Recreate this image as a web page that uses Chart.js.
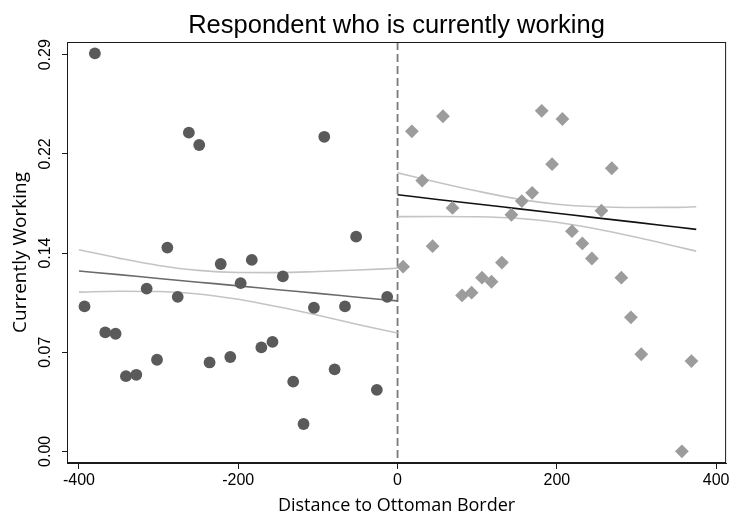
<!DOCTYPE html>
<html>
<head>
<meta charset="utf-8">
<script src="https://cdn.jsdelivr.net/npm/chart.js@4/dist/chart.umd.min.js"></script>
<style>
  html, body { margin: 0; padding: 0; background: #ffffff; }
  #wrap { width: 733px; height: 519px; }
</style>
</head>
<body>
<div id="wrap"><canvas id="c" width="733" height="519"></canvas></div>
<script>
// Binned means of "currently working", by distance (km) to the former Ottoman border
const westDistance = [-393, -380, -367, -354, -341, -328, -315, -302, -289, -276, -262, -249, -236, -222, -210, -197, -183, -171, -157, -144, -131, -118, -105, -92, -79, -66, -52, -26, -13];
const westShare    = [0.106, 0.291, 0.087, 0.086, 0.055, 0.056, 0.119, 0.067, 0.149, 0.113, 0.233, 0.224, 0.065, 0.137, 0.069, 0.123, 0.140, 0.076, 0.080, 0.128, 0.051, 0.020, 0.105, 0.230, 0.060, 0.106, 0.157, 0.045, 0.113];

const eastDistance = [7, 18, 31, 44, 57, 69, 81, 93, 106, 118, 131, 143, 156, 169, 181, 194, 207, 219, 232, 244, 256, 269, 281, 293, 306, 357, 369];
const eastShare    = [0.135, 0.234, 0.198, 0.150, 0.245, 0.178, 0.114, 0.116, 0.127, 0.124, 0.138, 0.173, 0.183, 0.189, 0.249, 0.210, 0.243, 0.161, 0.152, 0.141, 0.176, 0.207, 0.127, 0.098, 0.071, 0.000, 0.066];

// Linear fit with 95% confidence band on each side of the border
const westFitX  = [-400, -350, -300, -250, -200, -150, -100, -50, 0];
const westFit   = [0.1319, 0.1292, 0.1264, 0.1237, 0.1210, 0.1182, 0.1155, 0.1127, 0.1100];
const westUpper = [0.1474, 0.1413, 0.1359, 0.1323, 0.1308, 0.1307, 0.1315, 0.1326, 0.1339];
const westLower = [0.1164, 0.1171, 0.1169, 0.1151, 0.1112, 0.1057, 0.0995, 0.0928, 0.0865];

const eastFitX  = [0, 50, 100, 150, 200, 250, 300, 350, 375];
const eastFit   = [0.1876, 0.1842, 0.1809, 0.1775, 0.1741, 0.1707, 0.1674, 0.1640, 0.1623];
const eastUpper = [0.2036, 0.1968, 0.1903, 0.1846, 0.1807, 0.1788, 0.1783, 0.1784, 0.1788];
const eastLower = [0.1716, 0.1717, 0.1715, 0.1704, 0.1675, 0.1626, 0.1565, 0.1498, 0.1464];

// Axis ticks
const xTickValues = [-400, -200, 0, 200, 400];
const xTickLabels = ['-400', '-200', '0', '200', '400'];
const yTickValues = [0, 0.0725, 0.145, 0.2175, 0.29];
const yTickLabels = ['0.00', '0.07', '0.14', '0.22', '0.29'];

const borderDistance = 0;

const pairs = (xs, ys) => xs.map((x, i) => ({ x: x, y: ys[i] }));

// Frame around the plot and the dashed border line
const framePlugin = {
  id: 'frame',
  beforeDatasetsDraw(chart) {
    const { ctx, chartArea: a, scales } = chart;
    const px = scales.x.getPixelForValue(borderDistance);
    ctx.save();
    ctx.strokeStyle = '#7a7a7a';
    ctx.lineWidth = 1.8;
    ctx.setLineDash([8, 4]);
    ctx.beginPath();
    ctx.moveTo(px, a.top);
    ctx.lineTo(px, a.bottom);
    ctx.stroke();
    ctx.restore();
  },
  afterDraw(chart) {
    const { ctx, chartArea: a } = chart;
    ctx.save();
    ctx.strokeStyle = '#1a1a1a';
    ctx.lineWidth = 1;
    ctx.strokeRect(a.left + 0.5, a.top + 0.5, a.right - a.left - 1, a.bottom - a.top - 1);
    ctx.restore();
  }
};

const lineDs = (xs, ys, color, width) => ({
  type: 'line',
  data: pairs(xs, ys),
  borderColor: color,
  borderWidth: width,
  pointRadius: 0,
  fill: false,
  cubicInterpolationMode: 'monotone'
});

new Chart(document.getElementById('c'), {
  type: 'scatter',
  data: {
    datasets: [
      {
        data: pairs(westDistance, westShare),
        pointStyle: 'circle',
        pointRadius: 5.9,
        backgroundColor: '#5a5a5a',
        borderWidth: 0
      },
      {
        data: pairs(eastDistance, eastShare),
        pointStyle: 'rectRot',
        pointRadius: 6.9,
        backgroundColor: '#9c9c9c',
        borderWidth: 0
      },
      lineDs(westFitX, westFit, '#6a6a6a', 1.6),
      lineDs(eastFitX, eastFit, '#111111', 1.6),
      lineDs(westFitX, westUpper, '#c4c4c4', 1.6),
      lineDs(westFitX, westLower, '#c4c4c4', 1.6),
      lineDs(eastFitX, eastUpper, '#c4c4c4', 1.6),
      lineDs(eastFitX, eastLower, '#c4c4c4', 1.6)
    ]
  },
  options: {
    responsive: false,
    animation: false,
    devicePixelRatio: 1,
    layout: { padding: { left: 0, right: 6, top: 0, bottom: 0 } },
    plugins: {
      legend: { display: false },
      tooltip: { enabled: false },
      title: {
        display: true,
        fullSize: false,
        text: 'Respondent who is currently working',
        color: '#000000',
        font: { family: 'Liberation Sans', size: 25.5, weight: 'normal', lineHeight: 1 },
        padding: { top: 13, bottom: 3.5 }
      }
    },
    scales: {
      x: {
        type: 'linear',
        min: -415,
        max: 412.5,
        afterBuildTicks: s => { s.ticks = xTickValues.map(v => ({ value: v })); },
        afterFit: s => { s.height = 56; },
        ticks: {
          autoSkip: false,
          maxRotation: 0,
          padding: 2,
          color: '#000000',
          font: { family: 'Liberation Sans', size: 16 },
          callback: (v, i) => xTickLabels[i]
        },
        grid: { drawOnChartArea: false, drawTicks: true, tickLength: 6, tickColor: '#1a1a1a' },
        border: { color: '#1a1a1a', width: 1 },
        title: {
          display: true,
          text: 'Distance to Ottoman Border',
          color: '#000000',
          font: { family: 'Open Sans', size: 18 },
          padding: { top: 0, bottom: 2 }
        }
      },
      y: {
        type: 'linear',
        min: -0.0085,
        max: 0.2993,
        afterBuildTicks: s => { s.ticks = yTickValues.map(v => ({ value: v })); },
        afterFit: s => { s.width = 67; },
        ticks: {
          autoSkip: false,
          minRotation: 90,
          maxRotation: 90,
          crossAlign: 'center',
          padding: 1,
          color: '#000000',
          font: { family: 'Liberation Sans', size: 16 },
          callback: (v, i) => yTickLabels[i]
        },
        grid: { drawOnChartArea: false, drawTicks: true, tickLength: 5, tickColor: '#1a1a1a' },
        border: { color: '#1a1a1a', width: 1 },
        title: {
          display: true,
          text: 'Currently Working',
          color: '#000000',
          font: { family: 'Open Sans', size: 19 },
          padding: { top: 9, bottom: 0 }
        }
      }
    }
  },
  plugins: [framePlugin]
});
</script>
</body>
</html>
